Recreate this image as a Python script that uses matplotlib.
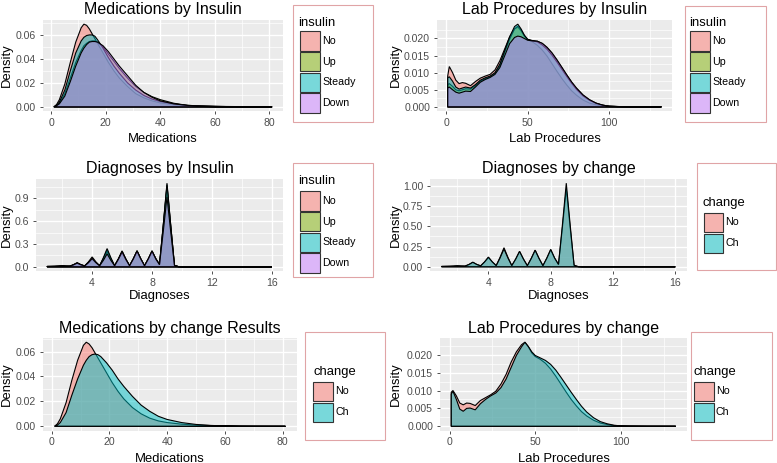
import matplotlib
matplotlib.use("Agg")
import matplotlib.pyplot as plt
from matplotlib.patches import Rectangle
from matplotlib.colors import to_rgba

plt.rcParams['font.family'] = ['Liberation Sans', 'DejaVu Sans']

# ---- data ----------------------------------------------------------------
insulin_levels = ['No', 'Up', 'Steady', 'Down']
change_levels = ['No', 'Ch']

# number of medications
med_x = [1, 2, 3, 5, 7, 9, 11, 12, 13, 14, 15, 16, 17, 19, 21, 23, 25, 28, 31, 34,
         37, 40, 45, 50, 55, 60, 65, 70, 75, 81]
med_ins_no = [0, 0.002, 0.006, 0.019, 0.037, 0.054, 0.066, 0.069, 0.068, 0.065, 0.061, 0.057,
              0.053, 0.045, 0.037, 0.030, 0.024, 0.017, 0.011, 0.0075, 0.005, 0.0033, 0.0018,
              0.001, 0.0006, 0.0004, 0.0003, 0.0002, 0.0001, 0]
med_ins_up = [0, 0.001, 0.003, 0.011, 0.024, 0.037, 0.047, 0.051, 0.053, 0.0545, 0.055, 0.055,
              0.054, 0.050, 0.044, 0.038, 0.032, 0.024, 0.017, 0.012, 0.0085, 0.006, 0.003,
              0.0012, 0.0004, 0, 0, 0, 0, 0]
med_ins_steady = [0, 0.0015, 0.004, 0.014, 0.030, 0.045, 0.055, 0.058, 0.0595, 0.060, 0.060,
                  0.059, 0.056, 0.049, 0.041, 0.034, 0.028, 0.020, 0.014, 0.0095, 0.0065, 0.0045,
                  0.0025, 0.0013, 0.0007, 0.0003, 0.0001, 0, 0, 0]
med_ins_down = [0, 0.001, 0.0025, 0.009, 0.021, 0.034, 0.045, 0.049, 0.052, 0.054, 0.0545,
                0.0545, 0.054, 0.051, 0.046, 0.040, 0.034, 0.026, 0.018, 0.012, 0.008, 0.005,
                0.0025, 0.0012, 0.0008, 0.0005, 0.0002, 0, 0, 0]
med_chg_no = [0, 0.002, 0.006, 0.019, 0.037, 0.053, 0.065, 0.0675, 0.066, 0.063, 0.059, 0.055,
              0.051, 0.043, 0.035, 0.028, 0.022, 0.015, 0.010, 0.0065, 0.0043, 0.003, 0.0017,
              0.001, 0.0006, 0.0004, 0.0002, 0.0001, 0.00005, 0]
med_chg_ch = [0, 0.001, 0.003, 0.011, 0.025, 0.038, 0.049, 0.053, 0.056, 0.0575, 0.058, 0.0575,
              0.056, 0.051, 0.045, 0.038, 0.032, 0.024, 0.017, 0.012, 0.008, 0.0055, 0.003,
              0.0015, 0.0007, 0.0003, 0, 0, 0, 0]

# number of lab procedures
lab_x = [1, 2, 4, 6, 8, 10, 12, 15, 18, 21, 24, 27, 30, 33, 36, 39, 42, 44, 46, 48, 50, 53,
         56, 59, 62, 65, 68, 71, 74, 77, 80, 84, 88, 92, 96, 100, 105, 115, 132]
lab_ins_no = [0.009, 0.0118, 0.0100, 0.0078, 0.0068, 0.0071, 0.0069, 0.0062, 0.0074, 0.0084,
              0.0090, 0.0095, 0.0108, 0.0135, 0.0170, 0.0205, 0.0228, 0.0233, 0.0222, 0.0207,
              0.0196, 0.0190, 0.0180, 0.0166, 0.0148, 0.0126, 0.0104, 0.0083, 0.0064, 0.0047,
              0.0034, 0.0020, 0.0011, 0.0006, 0.0003, 0.0001, 0.00005, 0.00002, 0]
lab_ins_up = [0.0065, 0.0068, 0.0060, 0.0050, 0.0047, 0.0050, 0.0053, 0.0052, 0.0062, 0.0075,
              0.0082, 0.0088, 0.0098, 0.0120, 0.0160, 0.0198, 0.0228, 0.0236, 0.0225, 0.0208,
              0.0197, 0.0194, 0.0192, 0.0185, 0.0173, 0.0156, 0.0136, 0.0115, 0.0093, 0.0072,
              0.0054, 0.0034, 0.0020, 0.0011, 0.0005, 0.0002, 0.0001, 0, 0]
lab_ins_steady = [0.0085, 0.0088, 0.0075, 0.0058, 0.0052, 0.0055, 0.0058, 0.0055, 0.0065,
                  0.0078, 0.0085, 0.0090, 0.0100, 0.0125, 0.0165, 0.0205, 0.0235, 0.0242,
                  0.0228, 0.0210, 0.0198, 0.0193, 0.0190, 0.0181, 0.0168, 0.0151, 0.0131,
                  0.0110, 0.0089, 0.0069, 0.0051, 0.0032, 0.0019, 0.0010, 0.0005, 0.0002,
                  0.0001, 0, 0]
lab_ins_down = [0.0055, 0.0058, 0.0050, 0.0043, 0.0040, 0.0043, 0.0046, 0.0045, 0.0058, 0.0072,
                0.0080, 0.0086, 0.0095, 0.0115, 0.0150, 0.0185, 0.0203, 0.0207, 0.0205, 0.0200,
                0.0195, 0.0193, 0.0192, 0.0186, 0.0174, 0.0158, 0.0138, 0.0116, 0.0094, 0.0073,
                0.0055, 0.0035, 0.0021, 0.0011, 0.0005, 0.0002, 0.0001, 0, 0]
lab_chg_no = [0.0095, 0.0100, 0.0085, 0.0065, 0.0060, 0.0065, 0.0064, 0.0058, 0.0072, 0.0080,
              0.0088, 0.0098, 0.0118, 0.0145, 0.0180, 0.0208, 0.0228, 0.0235, 0.0222, 0.0205,
              0.0195, 0.0187, 0.0176, 0.0160, 0.0140, 0.0118, 0.0096, 0.0075, 0.0057, 0.0041,
              0.0029, 0.0017, 0.0009, 0.0005, 0.0002, 0.0001, 0.00005, 0.00002, 0]
lab_chg_ch = [0.0090, 0.0098, 0.0075, 0.0048, 0.0042, 0.0050, 0.0051, 0.0046, 0.0063, 0.0075,
              0.0085, 0.0093, 0.0108, 0.0132, 0.0165, 0.0198, 0.0222, 0.0235, 0.0223, 0.0208,
              0.0198, 0.0191, 0.0184, 0.0173, 0.0157, 0.0137, 0.0116, 0.0095, 0.0075, 0.0056,
              0.0040, 0.0024, 0.0013, 0.0007, 0.0003, 0.0001, 0.00005, 0, 0]

# number of diagnoses
diag_x = [1, 1.25, 1.5, 1.75, 2, 2.25, 2.5, 2.75, 3, 3.25, 3.5, 3.75, 4, 4.25, 4.5, 4.75, 5,
          5.25, 5.5, 5.75, 6, 6.25, 6.5, 6.75, 7, 7.25, 7.5, 7.75, 8, 8.25, 8.5, 8.75, 9,
          9.25, 9.5, 9.75, 10, 11, 16]
diag_ins_no = [0.005, 0.006, 0.007, 0.010, 0.014, 0.010, 0.009, 0.028, 0.055, 0.029, 0.012,
               0.065, 0.13, 0.066, 0.014, 0.11, 0.22, 0.11, 0.015, 0.105, 0.21, 0.105, 0.015,
               0.105, 0.21, 0.105, 0.015, 0.105, 0.21, 0.11, 0.03, 0.53, 1.06, 0.53, 0.02,
               0.003, 0, 0, 0]
diag_ins_up = [0.004, 0.005, 0.006, 0.008, 0.011, 0.008, 0.008, 0.023, 0.045, 0.024, 0.011,
               0.05, 0.10, 0.051, 0.013, 0.10, 0.20, 0.10, 0.014, 0.10, 0.20, 0.10, 0.014,
               0.105, 0.21, 0.105, 0.014, 0.10, 0.20, 0.105, 0.03, 0.54, 1.08, 0.54, 0.02,
               0.003, 0, 0, 0]
diag_ins_steady = [0.005, 0.005, 0.006, 0.008, 0.012, 0.009, 0.008, 0.026, 0.05, 0.027, 0.012,
                   0.055, 0.11, 0.057, 0.015, 0.12, 0.24, 0.12, 0.015, 0.095, 0.19, 0.095,
                   0.014, 0.10, 0.20, 0.10, 0.014, 0.10, 0.20, 0.105, 0.03, 0.55, 1.10, 0.55,
                   0.02, 0.003, 0, 0, 0]
diag_ins_down = [0.005, 0.005, 0.006, 0.008, 0.012, 0.009, 0.008, 0.026, 0.05, 0.027, 0.012,
                 0.055, 0.11, 0.056, 0.013, 0.085, 0.17, 0.085, 0.014, 0.10, 0.20, 0.10, 0.014,
                 0.105, 0.21, 0.105, 0.014, 0.105, 0.21, 0.105, 0.028, 0.46, 0.92, 0.46, 0.018,
                 0.003, 0, 0, 0]
diag_chg_no = [0.005, 0.006, 0.007, 0.009, 0.013, 0.010, 0.009, 0.028, 0.055, 0.029, 0.012,
               0.058, 0.115, 0.059, 0.015, 0.118, 0.235, 0.118, 0.015, 0.095, 0.19, 0.095,
               0.014, 0.103, 0.205, 0.103, 0.014, 0.105, 0.21, 0.105, 0.028, 0.48, 0.96, 0.48,
               0.018, 0.003, 0, 0, 0]
diag_chg_ch = [0.005, 0.006, 0.007, 0.009, 0.013, 0.010, 0.009, 0.029, 0.057, 0.030, 0.012,
               0.06, 0.12, 0.061, 0.015, 0.11, 0.22, 0.11, 0.015, 0.095, 0.19, 0.095, 0.014,
               0.103, 0.205, 0.103, 0.014, 0.108, 0.215, 0.11, 0.03, 0.515, 1.03, 0.515, 0.02,
               0.003, 0, 0, 0]

# axis breaks and labels
med_xticks = [0, 20, 40, 60, 80]
med_yticks = [0.00, 0.02, 0.04, 0.06]
med_ylabels = ['0.00', '0.02', '0.04', '0.06']
lab_xticks = [0, 50, 100]
lab_yticks = [0.000, 0.005, 0.010, 0.015, 0.020]
lab_ylabels = ['0.000', '0.005', '0.010', '0.015', '0.020']
diag_xticks = [4, 8, 12, 16]
diag_ins_yticks = [0.0, 0.3, 0.6, 0.9]
diag_ins_ylabels = ['0.0', '0.3', '0.6', '0.9']
diag_chg_yticks = [0.00, 0.25, 0.50, 0.75, 1.00]
diag_chg_ylabels = ['0.00', '0.25', '0.50', '0.75', '1.00']

insulin_colors = ['#F8766D', '#7CAE00', '#00BFC4', '#C77CFF']
change_colors = ['#F8766D', '#00BFC4']

W, H = 777, 463
fig = plt.figure(figsize=(W / 100, H / 100), dpi=100)
fig.patch.set_facecolor('white')


def fx(x):
    return x / W


def fy(y):
    return 1 - y / H


def minor_between(ticks, lo, hi):
    step = ticks[1] - ticks[0]
    cands = [ticks[0] - step / 2] + [t + step / 2 for t in ticks]
    return [c for c in cands if lo < c < hi]


def panel(box, x, series, colors, xticks, yticks, ylabels, title, xlabel, title_y, xlabel_y):
    l, t, r, b = box
    ax = fig.add_axes([fx(l), fy(b), (r - l) / W, (b - t) / H])
    ax.set_facecolor('#EBEBEB')
    for y, c in zip(series, colors):
        ax.fill([x[0]] + x + [x[-1]], [0] + y + [0], facecolor=to_rgba(c, 0.5),
                edgecolor='black', lw=0.8)
    ax.margins(x=0.05, y=0.05)
    xlim = ax.get_xlim()
    ylim = ax.get_ylim()
    ax.set_xticks(xticks)
    ax.set_yticks(yticks)
    ax.set_yticklabels(ylabels)
    ax.set_xticks(minor_between(xticks, *xlim), minor=True)
    ax.set_yticks(minor_between(yticks, *ylim), minor=True)
    ax.set_xlim(xlim)
    ax.set_ylim(ylim)
    ax.grid(which='major', color='white', lw=0.95)
    ax.grid(which='minor', color='white', lw=0.5)
    ax.set_axisbelow(True)
    for s in ax.spines.values():
        s.set_visible(False)
    ax.tick_params(which='major', length=2.5, width=0.6, color='#333333', pad=2.5,
                   labelsize=7.6, labelcolor='#4D4D4D')
    ax.tick_params(which='minor', length=0)
    fig.text(fx((l + r) / 2), fy(title_y), title, ha='center', va='baseline', fontsize=11.5)
    fig.text(fx((l + r) / 2), fy(xlabel_y), xlabel, ha='center', va='baseline', fontsize=9.4)
    fig.text(fx(7 if l < 300 else 395.5), fy((t + b) / 2), 'Density', rotation=90,
             ha='center', va='center', fontsize=9.4)
    return ax


def legend(box, title, labels, colors, title_pos, key_x, key_top):
    l, t, r, b = box
    fig.add_artist(Rectangle((fx(l), fy(b)), (r - l) / W, (b - t) / H, transform=fig.transFigure,
                             facecolor='white', edgecolor='#E0A4A6', lw=0.8))
    fig.text(fx(title_pos[0]), fy(title_pos[1]), title, ha='left', va='center', fontsize=9.4)
    size, pitch = 19.5, 20.8
    for i, (lab, c) in enumerate(zip(labels, colors)):
        top = key_top + i * pitch
        fig.add_artist(Rectangle((fx(key_x), fy(top + size)), size / W, size / H,
                                 transform=fig.transFigure, facecolor='#F2F2F2', lw=0))
        fig.add_artist(Rectangle((fx(key_x), fy(top + size)), size / W, size / H,
                                 transform=fig.transFigure, facecolor=to_rgba(c, 0.5),
                                 edgecolor='#333333', lw=0.8))
        fig.text(fx(key_x + size + 2.5), fy(top + size / 2), lab, ha='left', va='center',
                 fontsize=7.7)


panel((43, 20, 283, 111), med_x, [med_ins_no, med_ins_up, med_ins_steady, med_ins_down],
      insulin_colors, med_xticks, med_yticks, med_ylabels,
      'Medications by Insulin', 'Medications', 14, 141.5)
panel((437, 20, 672, 111), lab_x, [lab_ins_no, lab_ins_up, lab_ins_steady, lab_ins_down],
      insulin_colors, lab_xticks, lab_yticks, lab_ylabels,
      'Lab Procedures by Insulin', 'Lab Procedures', 14, 141.5)
panel((36, 179, 283, 271), diag_x, [diag_ins_no, diag_ins_up, diag_ins_steady, diag_ins_down],
      insulin_colors, diag_xticks, diag_ins_yticks, diag_ins_ylabels,
      'Diagnoses by Insulin', 'Diagnoses', 173, 298.5)
panel((430, 179, 687, 271), diag_x, [diag_chg_no, diag_chg_ch],
      change_colors, diag_xticks, diag_chg_yticks, diag_chg_ylabels,
      'Diagnoses by change', 'Diagnoses', 173, 298.5)
panel((43, 338, 297, 430.5), med_x, [med_chg_no, med_chg_ch],
      change_colors, med_xticks, med_yticks, med_ylabels,
      'Medications by change Results', 'Medications', 333, 461.5)
panel((440, 338, 687, 430.5), lab_x, [lab_chg_no, lab_chg_ch],
      change_colors, lab_xticks, lab_yticks, lab_ylabels,
      'Lab Procedures by change', 'Lab Procedures', 333, 461.5)

legend((293, 5, 373, 122), 'insulin', insulin_levels, insulin_colors, (298, 23.5), 300, 31)
legend((685, 6, 766, 122), 'insulin', insulin_levels, insulin_colors, (689, 23.5), 690, 31)
legend((293, 163, 373, 277), 'insulin', insulin_levels, insulin_colors, (298, 181.5), 300, 191)
legend((697, 163, 776, 270), 'change', change_levels, change_colors, (702.5, 203), 703.5, 212.7)
legend((305, 332, 385, 440), 'change', change_levels, change_colors, (313, 371.5), 313, 381.7)
legend((691, 332, 772, 440), 'change', change_levels, change_colors, (693, 371.5), 694, 381.7)

fig.savefig('out.png', dpi=100)
